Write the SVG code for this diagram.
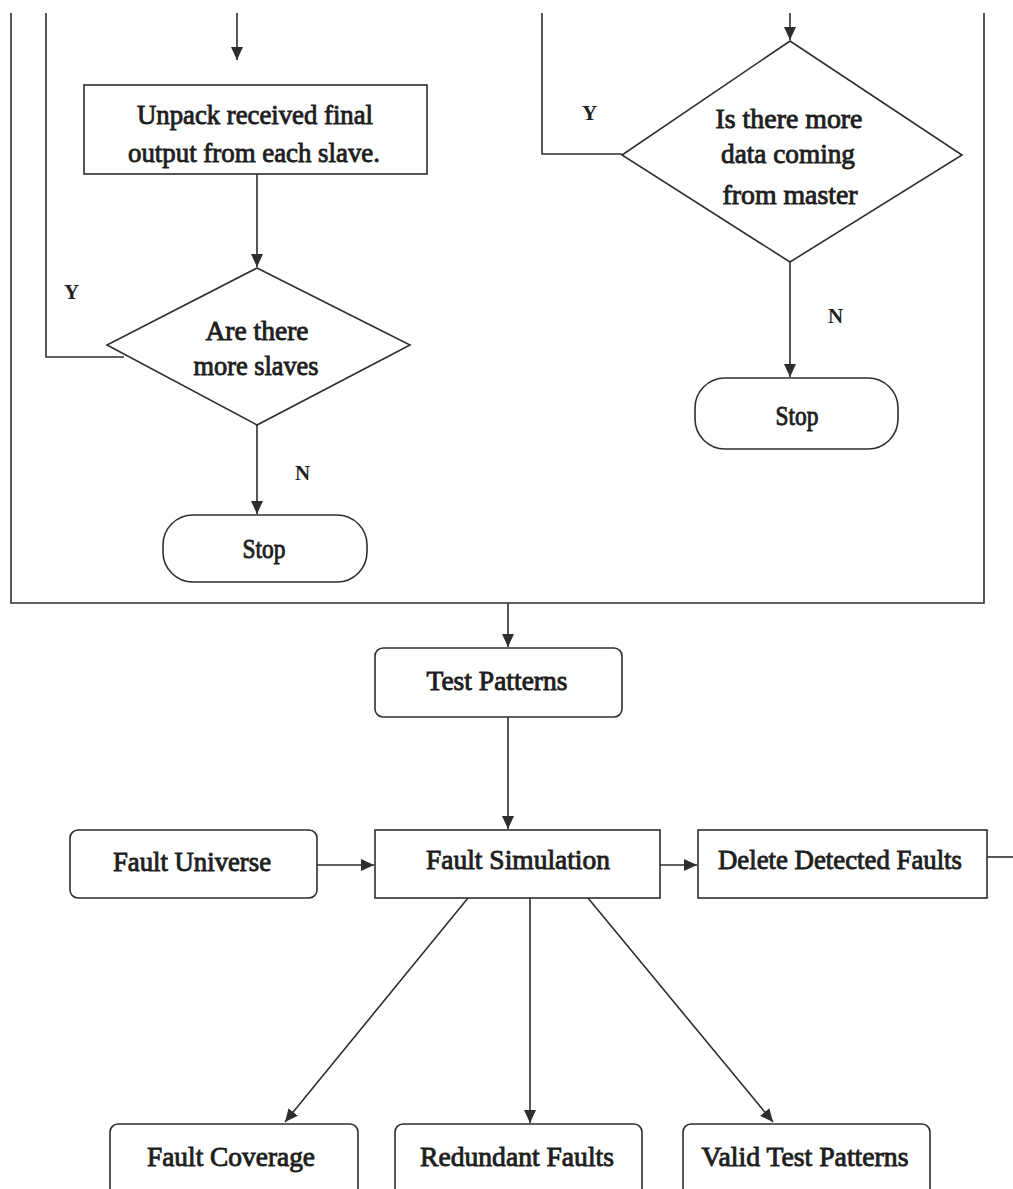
<svg xmlns="http://www.w3.org/2000/svg" width="1013" height="1189" viewBox="0 0 1013 1189">
  <style>
    .ln { fill: none; stroke: #2e2e2e; stroke-width: 1.6; }
    .arr { marker-end: url(#ah); }
    .box { fill: #ffffff; stroke: #2e2e2e; stroke-width: 1.6; }
    .t { font-family: "Liberation Serif", "Times New Roman", serif; font-size: 28px; fill: #1e1e1e; stroke: #1e1e1e; stroke-width: 0.9; text-anchor: middle; }
    .lab { font-family: "Liberation Serif", "Times New Roman", serif; font-size: 21px; font-weight: bold; fill: #1e1e1e; }
  </style>
  <defs>
    <marker id="ah" markerUnits="userSpaceOnUse" markerWidth="14" markerHeight="12" refX="13" refY="6" orient="auto">
      <path d="M0,0 L13,6 L0,12 z" fill="#2e2e2e"/>
    </marker>
  </defs>
  <rect width="1013" height="1189" fill="#ffffff"/>

  <g id="connectors">
    <!-- outer frame of the upper section -->
    <path class="ln" d="M11,13 V603 H984 V13"/>
    <!-- master side -->
    <path class="ln arr" d="M237,13 V60"/>
    <path class="ln arr" d="M257,174 V267"/>
    <path class="ln arr" d="M257,425 V514"/>
    <path class="ln" d="M46,13 V357 H124"/>
    <!-- slave side -->
    <path class="ln arr" d="M790,13 V40"/>
    <path class="ln arr" d="M790,262 V377"/>
    <path class="ln" d="M542,13 V154 H622"/>
    <!-- lower flow -->
    <path class="ln arr" d="M508,603 V647"/>
    <path class="ln arr" d="M508,717 V829"/>
    <path class="ln arr" d="M317,865 H374"/>
    <path class="ln arr" d="M660,865 H697"/>
    <path class="ln" d="M987,857 H1013"/>
    <path class="ln arr" d="M468,898 L285,1122"/>
    <path class="ln arr" d="M530,898 V1123"/>
    <path class="ln arr" d="M588,898 L773,1122"/>
    <!-- branch labels -->
    <text class="lab" x="64" y="299">Y</text>
    <text class="lab" x="295" y="480">N</text>
    <text class="lab" x="582" y="120">Y</text>
    <text class="lab" x="828" y="323">N</text>
  </g>

  <g id="unpack">
    <rect class="box" x="84" y="85" width="343" height="89"/>
    <text class="t" x="255" y="124" textLength="236" lengthAdjust="spacingAndGlyphs">Unpack received final</text>
    <text class="t" x="254" y="162" textLength="252" lengthAdjust="spacingAndGlyphs">output from each slave.</text>
  </g>

  <g id="more-slaves">
    <polygon class="box" points="257,268 410,345 257,425 107,345"/>
    <text class="t" x="257" y="340" textLength="103" lengthAdjust="spacingAndGlyphs">Are there</text>
    <text class="t" x="256" y="375" textLength="125" lengthAdjust="spacingAndGlyphs">more slaves</text>
  </g>

  <g id="stop-master">
    <rect class="box" x="163" y="515" width="204" height="67" rx="30" ry="30"/>
    <text class="t" x="264" y="558" textLength="43" lengthAdjust="spacingAndGlyphs">Stop</text>
  </g>

  <g id="more-data">
    <polygon class="box" points="790,41 962,155 790,262 622,155"/>
    <text class="t" x="789" y="128" textLength="147" lengthAdjust="spacingAndGlyphs">Is there more</text>
    <text class="t" x="788" y="163" textLength="134" lengthAdjust="spacingAndGlyphs">data coming</text>
    <text class="t" x="790" y="204" textLength="135" lengthAdjust="spacingAndGlyphs">from master</text>
  </g>

  <g id="stop-slave">
    <rect class="box" x="695" y="378" width="203" height="71" rx="30" ry="30"/>
    <text class="t" x="797" y="425" textLength="43" lengthAdjust="spacingAndGlyphs">Stop</text>
  </g>

  <g id="test-patterns">
    <rect class="box" x="375" y="648" width="247" height="69" rx="8" ry="8"/>
    <text class="t" x="497" y="690" textLength="141" lengthAdjust="spacingAndGlyphs">Test Patterns</text>
  </g>

  <g id="fault-universe">
    <rect class="box" x="70" y="830" width="247" height="68" rx="8" ry="8"/>
    <text class="t" x="192" y="871" textLength="158" lengthAdjust="spacingAndGlyphs">Fault Universe</text>
  </g>

  <g id="fault-simulation">
    <rect class="box" x="375" y="830" width="285" height="68"/>
    <text class="t" x="518" y="869" textLength="184" lengthAdjust="spacingAndGlyphs">Fault Simulation</text>
  </g>

  <g id="delete-detected">
    <rect class="box" x="698" y="830" width="289" height="68"/>
    <text class="t" x="840" y="869" textLength="244" lengthAdjust="spacingAndGlyphs">Delete Detected Faults</text>
  </g>

  <g id="fault-coverage">
    <rect class="box" x="110" y="1124" width="248" height="80" rx="8" ry="8"/>
    <text class="t" x="231" y="1166" textLength="168" lengthAdjust="spacingAndGlyphs">Fault Coverage</text>
  </g>

  <g id="redundant-faults">
    <rect class="box" x="395" y="1124" width="247" height="80" rx="8" ry="8"/>
    <text class="t" x="517" y="1166" textLength="194" lengthAdjust="spacingAndGlyphs">Redundant Faults</text>
  </g>

  <g id="valid-test-patterns">
    <rect class="box" x="683" y="1124" width="247" height="80" rx="8" ry="8"/>
    <text class="t" x="805" y="1166" textLength="207" lengthAdjust="spacingAndGlyphs">Valid Test Patterns</text>
  </g>
</svg>
